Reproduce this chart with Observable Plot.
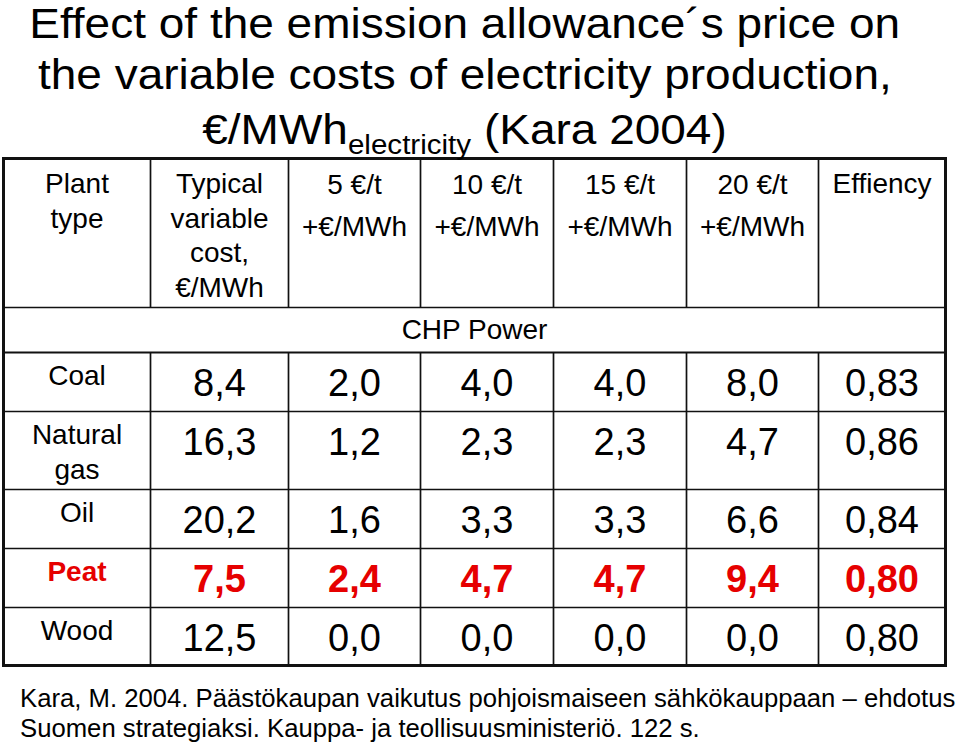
<!DOCTYPE html>
<html>
<head>
<meta charset="utf-8">
<script src="https://cdn.jsdelivr.net/npm/d3@7"></script>
<script src="https://cdn.jsdelivr.net/npm/@observablehq/plot@0.6"></script>
<style>
  html, body { margin: 0; padding: 0; background: #fff; }
  body { width: 959px; height: 745px; position: relative; overflow: hidden;
         font-family: Arial, "Liberation Sans", sans-serif; color: #000; }
  .tline { position: absolute; left: 0; width: 930px; text-align: center;
           font-size: 42px; line-height: 47px; white-space: nowrap; z-index: 2; }
  .tline > span { display: inline-block; transform: scaleX(1.095); transform-origin: 50% 50%; }
  .tline .sub { font-size: 27px; position: relative; top: 10px; }
  #chart { position: absolute; left: 0; top: 150px; z-index: 1; }
  #caption { position: absolute; left: 20px; top: 683px; font-size: 25.7px; line-height: 30px; white-space: nowrap; }
</style>
</head>
<body>
<div class="tline" style="top:0px"><span>Effect of the emission allowance´s price on</span></div>
<div class="tline" style="top:51px"><span>the variable costs of electricity production,</span></div>
<div class="tline" style="top:106px"><span>€/MWh<span class="sub">electricity</span> (Kara 2004)</span></div>
<div id="chart"></div>
<div id="caption">Kara, M. 2004. Päästökaupan vaikutus pohjoismaiseen sähkökauppaan – ehdotus<br>Suomen strategiaksi. Kauppa- ja teollisuusministeriö. 122 s.</div>
<script>
// ---- data ----
const columnHeaders = ["Plant\ntype", "Typical\nvariable\ncost,\n€/MWh", "5 €/t\n+€/MWh", "10 €/t\n+€/MWh", "15 €/t\n+€/MWh", "20 €/t\n+€/MWh", "Effiency"];
const sectionLabel = "CHP Power";
const plantTypes = ["Coal", "Natural\ngas", "Oil", "Peat", "Wood"];
const typicalCost = [8.4, 16.3, 20.2, 7.5, 12.5];
const add5 = [2.0, 1.2, 1.6, 2.4, 0.0];
const add10 = [4.0, 2.3, 3.3, 4.7, 0.0];
const add15 = [4.0, 2.3, 3.3, 4.7, 0.0];
const add20 = [8.0, 4.7, 6.6, 9.4, 0.0];
const efficiency = [0.83, 0.86, 0.84, 0.80, 0.80];
const highlightedPlant = "Peat";

// ---- layout (table geometry, in table units) ----
const colWidths = [147, 138, 132, 133, 133, 132, 127];
const rowHeights = [149, 45, 59, 78, 59, 59, 58];
const colEdges = [0]; colWidths.forEach(w => colEdges.push(colEdges[colEdges.length - 1] + w));
const rowEdges = [0]; rowHeights.forEach(h => rowEdges.push(rowEdges[rowEdges.length - 1] + h));
const tableW = colEdges[colEdges.length - 1];
const tableH = rowEdges[rowEdges.length - 1];
const colMid = c => colEdges[c] + colWidths[c] / 2;

const fmt1 = v => d3.format(".1f")(v).replace(".", ",");
const fmt2 = v => d3.format(".2f")(v).replace(".", ",");
const red = "#e60000";

// header cells
const headerCells = columnHeaders.map((t, c) => ({x: colMid(c), text: t, price: c >= 2 && c <= 5}));

// body cells
const series = [typicalCost, add5, add10, add15, add20];
const valueCells = [];
const labelCells = [];
plantTypes.forEach((p, r) => {
  const top = rowEdges[r + 2];
  const hl = p === highlightedPlant;
  labelCells.push({x: colMid(0), y: top + 8, text: p, hl});
  series.forEach((s, k) => valueCells.push({x: colMid(k + 1), y: top + 31, text: fmt1(s[r]), hl}));
  valueCells.push({x: colMid(6), y: top + 31, text: fmt2(efficiency[r]), hl});
});

// grid lines
const hLines = rowEdges.slice(1, -1).map((y, i) => ({y, w: i === 1 ? 2.2 : 1.7}));
const vLines = [];
colEdges.slice(1, -1).forEach(x => {
  vLines.push({x, y1: 0, y2: rowEdges[1]});
  vLines.push({x, y1: rowEdges[2], y2: tableH});
});

const chart = Plot.plot({
  width: 959,
  height: 525,
  marginLeft: 3, marginRight: 14, marginTop: 8, marginBottom: 10,
  x: {domain: [0, tableW], axis: null},
  y: {domain: [tableH, 0], axis: null},
  style: {fontFamily: "Arial, 'Liberation Sans', sans-serif", background: "transparent", color: "black", overflow: "visible"},
  marks: [
    Plot.ruleY(hLines, {y: "y", x1: 0, x2: tableW, stroke: "#111", strokeWidth: d => d.w}),
    Plot.ruleX(vLines, {x: "x", y1: "y1", y2: "y2", stroke: "#111", strokeWidth: 1.7}),
    Plot.frame({stroke: "#111", strokeWidth: 3}),
    Plot.text(headerCells.filter(d => !d.price), {x: "x", y: 10.5, text: "text", fontSize: 28, lineAnchor: "top", lineHeight: 1.23, fill: "black"}),
    Plot.text(headerCells.filter(d => d.price), {x: "x", y: 5.2, text: "text", fontSize: 28, lineAnchor: "top", lineHeight: 1.5, fill: "black"}),
    Plot.text([sectionLabel], {x: tableW / 2, y: rowEdges[1] + rowHeights[1] / 2, text: d => d, fontSize: 28, lineAnchor: "middle", fill: "black"}),
    Plot.text(labelCells.filter(d => !d.hl), {x: "x", y: "y", text: "text", fontSize: 28, lineAnchor: "top", lineHeight: 1.25, fill: "black"}),
    Plot.text(labelCells.filter(d => d.hl), {x: "x", y: "y", text: "text", fontSize: 28, lineAnchor: "top", lineHeight: 1.25, fill: red, fontWeight: "bold"}),
    Plot.text(valueCells.filter(d => !d.hl), {x: "x", y: "y", text: "text", fontSize: 38, lineAnchor: "middle", fill: "black"}),
    Plot.text(valueCells.filter(d => d.hl), {x: "x", y: "y", text: "text", fontSize: 38, lineAnchor: "middle", fill: red, fontWeight: "bold"})
  ]
});
document.getElementById("chart").appendChild(chart);
</script>
</body>
</html>
